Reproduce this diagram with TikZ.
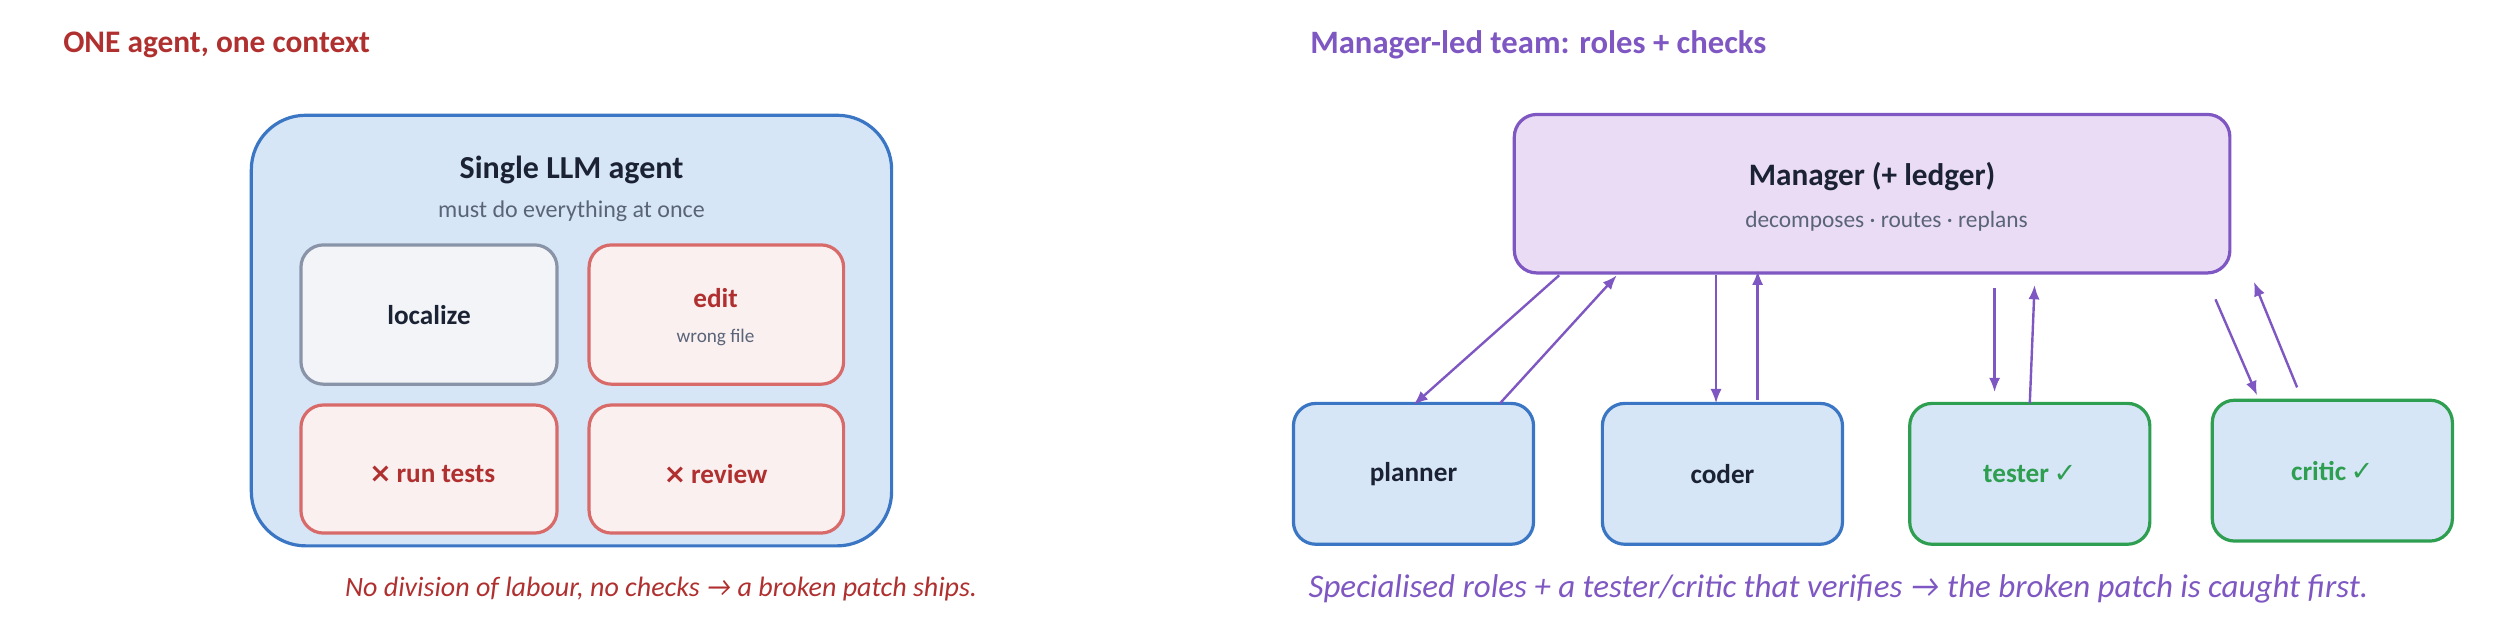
\documentclass[tikz,border=0pt]{standalone}
\usepackage{fontspec}
\setmainfont{Carlito}
\newfontfamily\djv{DejaVu Sans}
\usetikzlibrary{arrows.meta}
\definecolor{bst}{HTML}{3A76C4}\definecolor{bfi}{HTML}{D6E6F6}
\definecolor{rst}{HTML}{D86A6A}\definecolor{rfi}{HTML}{FBF0F0}
\definecolor{gst}{HTML}{8A94A8}\definecolor{gfi}{HTML}{F2F4F8}
\definecolor{pst}{HTML}{7E57C2}\definecolor{pfi}{HTML}{EBDCF6}
\definecolor{grn}{HTML}{2E9E50}\definecolor{rtx}{HTML}{B03030}
\definecolor{dtx}{HTML}{1A2233}\definecolor{stx}{HTML}{5A6478}
\tikzset{
 box/.style={rounded corners=14pt, line width=2pt},
 lbl/.style={font=\fontsize{17}{20}\selectfont\bfseries, text=dtx},
 sub/.style={font=\fontsize{15}{18}\selectfont, text=stx},
 arr/.style={draw=pst, line width=1.5pt, -{Latex[length=9pt,width=7pt]}},
}
\newcommand{\xmk}{{\djv\bfseries ×}}
\newcommand{\ckm}{{\djv\mdseries ✓}}
\begin{document}
\begin{tikzpicture}[x=1pt,y=-1pt]
\useasboundingbox (0,0) rectangle (1568,393.6);
% left
\node[anchor=west, font=\fontsize{19.6}{24}\selectfont\bfseries, text=rtx] (lt) at (36,28) {ONE agent, one context};
\draw[box, rounded corners=34pt, draw=bst, fill=bfi] (157,72) rectangle (557,341);
\node[font=\fontsize{20}{24}\selectfont\bfseries, text=dtx] (sa) at (357,106) {Single LLM agent};
\node[sub] (sas) at (357,132) {must do everything at once};
\draw[box, draw=gst, fill=gfi] (188,153) rectangle (348,240);
\node[lbl] (loc) at (268,197) {localize};
\draw[box, draw=rst, fill=rfi] (368,153) rectangle (527,240);
\node[lbl, text=rtx] (ed) at (447,186) {edit};
\node[sub, font=\fontsize{12}{15}\selectfont] (eds) at (447,211) {wrong file};
\draw[box, draw=rst, fill=rfi] (188,253) rectangle (348,333);
\node[lbl, text=rtx] (rt) at (270,296) {\xmk\,run tests};
\draw[box, draw=rst, fill=rfi] (368,253) rectangle (527,333);
\node[lbl, text=rtx] (rv) at (447,296) {\xmk\,review};
\node[font=\fontsize{17.5}{21}\selectfont\itshape, text=rtx] (lc) at (413,368) {No division of labour, no checks → a broken patch ships.};
% right
\node[anchor=west, font=\fontsize{20.4}{24}\selectfont\bfseries, text=pst] (rtl) at (815,28) {Manager-led team: roles + checks};
\node[box, draw=pst, fill=pfi, minimum width=447pt, minimum height=99pt] (mgr) at (1169.5,121) {};
\node[font=\fontsize{19.5}{23}\selectfont\bfseries, text=dtx] (mt) at (1169.5,110) {Manager (+ ledger)};
\node[sub, font=\fontsize{14.6}{18}\selectfont] (ms) at (1178.5,138) {decomposes · routes · replans};
\node[box, draw=bst, fill=bfi, minimum width=150pt, minimum height=88pt, lbl] (pl) at (883,296) {planner};
\node[box, draw=bst, fill=bfi, minimum width=150pt, minimum height=88pt, lbl] (co) at (1076,296) {coder};
\node[box, draw=grn, fill=bfi, minimum width=150pt, minimum height=88pt, lbl, text=grn] (te) at (1268,296) {tester\,\ckm};
\node[box, draw=grn, fill=bfi, minimum width=150pt, minimum height=88pt, lbl, text=grn] (cr) at (1457,294) {critic\,\ckm};
\coordinate (a1) at (974,172); \coordinate (a2) at (883,253);
\coordinate (b1) at (937,252); \coordinate (b2) at (1010,172);
\coordinate (c1) at (1072,172); \coordinate (c2) at (1072,252);
\coordinate (d1) at (1098,250); \coordinate (d2) at (1098,169);
\coordinate (e1) at (1246,180); \coordinate (e2) at (1246,245);
\coordinate (f1) at (1268,252); \coordinate (f2) at (1271,178);
\coordinate (g1) at (1384,187); \coordinate (g2) at (1410,247);
\coordinate (h1) at (1435,242); \coordinate (h2) at (1408,176);
\draw[arr] (a1) -- (a2); \draw[arr] (b1) -- (b2);
\draw[arr] (c1) -- (c2); \draw[arr] (d1) -- (d2);
\draw[arr] (e1) -- (e2); \draw[arr] (f1) -- (f2);
\draw[arr] (g1) -- (g2); \draw[arr] (h1) -- (h2);
\node[font=\fontsize{20.6}{25}\selectfont\itshape, text=pst] (rc) at (1148.5,368) {Specialised roles + a tester/critic that verifies → the broken patch is caught first.};
\end{tikzpicture}
\end{document}
